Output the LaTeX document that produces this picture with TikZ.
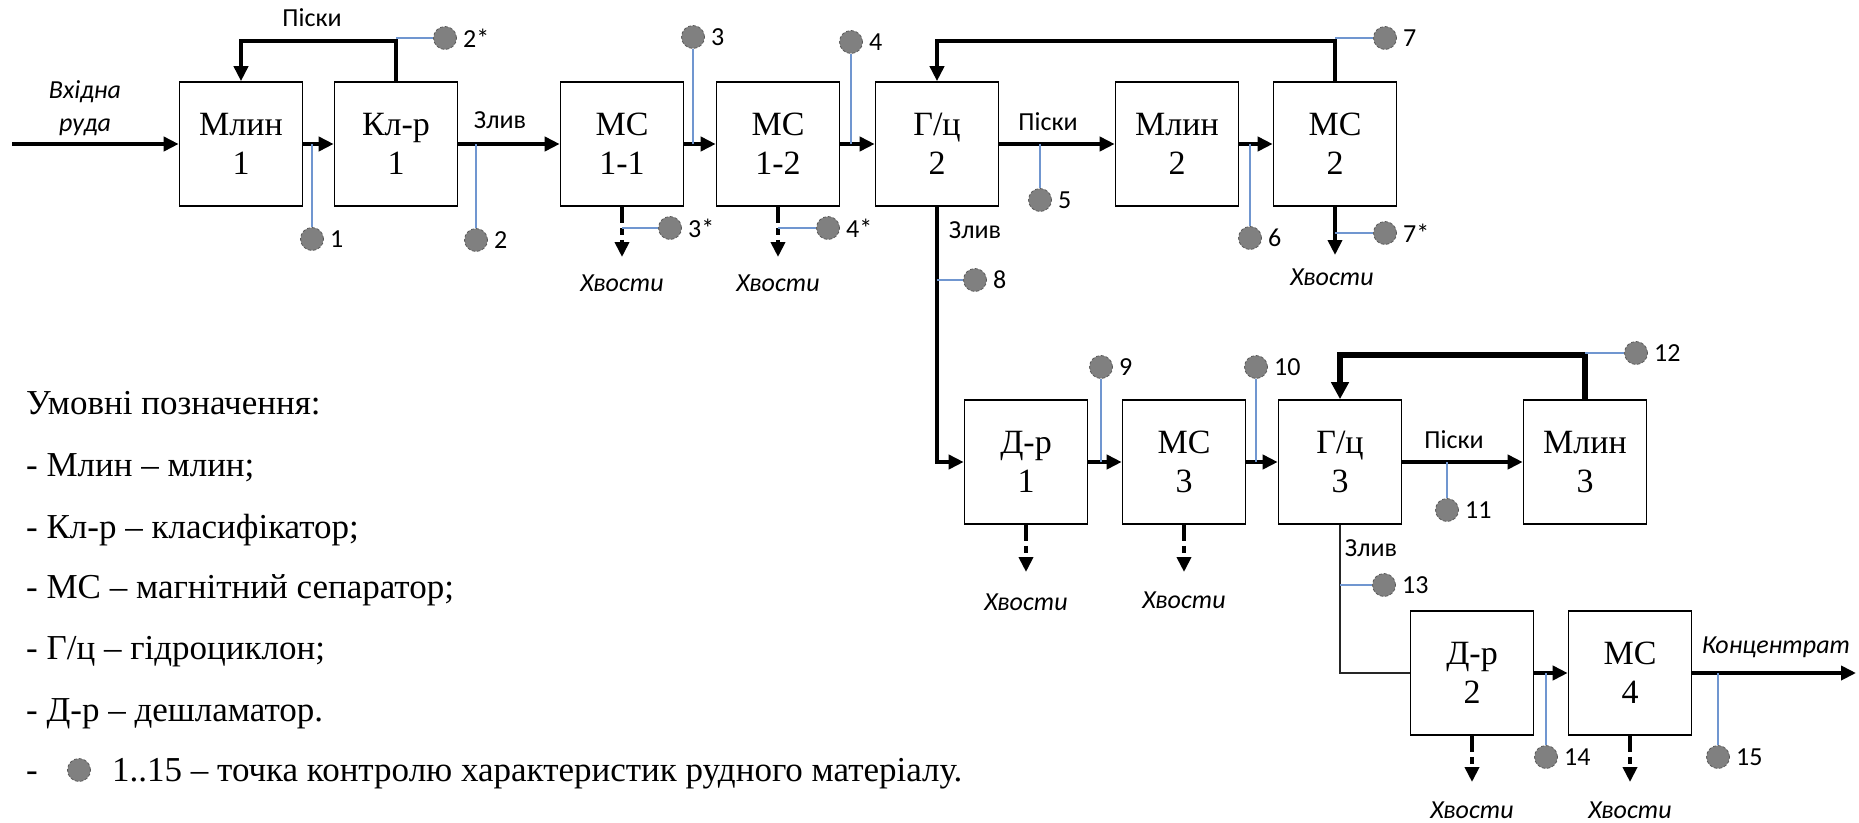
\documentclass[tikz,border=0pt]{standalone}
\usepackage{fontspec}
\setmainfont{Liberation Serif}
\newfontfamily\calfont{Carlito}
\usetikzlibrary{arrows.meta}
\definecolor{tapblue}{RGB}{112,150,208}
\definecolor{probegray}{RGB}{128,128,128}
\newcommand{\smallfnt}{\calfont\fontsize{26}{33}\selectfont}
\tikzset{
  unit/.style={draw, line width=1.6pt, minimum width=123pt, minimum height=124pt, inner sep=0pt, align=center, font=\fontsize{34}{39}\selectfont},
  flow/.style={line width=4pt, -{Triangle[length=15pt,width=14pt]}},
  tail/.style={line width=4pt, dash pattern=on 16pt off 5pt on 7pt off 5pt, -{Triangle[length=15pt,width=14pt]}},
  loop3/.style={line width=6pt, -{Triangle[length=17pt,width=17pt]}},
  drain/.style={line width=1.8pt, black!85},
  tap/.style={draw=tapblue, line width=1.3pt},
  probe/.style={circle, fill=probegray, draw=black!65, densely dashed, line width=0.8pt, minimum size=23pt, inner sep=0pt, label distance=7pt},
  every label/.style={font=\smallfnt, inner sep=1pt, xshift=5pt},
  tag/.style={font=\smallfnt},
  waste/.style={font=\smallfnt\itshape},
  legend/.style={anchor=base west, font=\fontsize{35}{40}\selectfont, inner sep=0pt}
}

\begin{document}
\begin{tikzpicture}[x=1pt, y=-1pt]
  \useasboundingbox (0,0) rectangle (1859,822);

  \node[unit] (m1) at (241,144) {Млин\\1};
  \node[unit] (k1) at (396,144) {Кл-р\\1};
  \node[unit] (ms11) at (622,144) {МС\\1-1};
  \node[unit] (ms12) at (778,144) {МС\\1-2};
  \node[unit] (g2) at (937,144) {Г/ц\\2};
  \node[unit] (m2) at (1177,144) {Млин\\2};
  \node[unit] (ms2) at (1335,144) {МС\\2};
  \node[unit] (d1) at (1026,462) {Д-р\\1};
  \node[unit] (ms3) at (1184,462) {МС\\3};
  \node[unit] (g3) at (1340,462) {Г/ц\\3};
  \node[unit] (m3) at (1585,462) {Млин\\3};
  \node[unit] (d2) at (1472,673) {Д-р\\2};
  \node[unit] (ms4) at (1630,673) {МС\\4};

  \coordinate (feed) at (12,144);
  \coordinate (top1) at (0,41);
  \coordinate (top3) at (0,355);
  \coordinate (out) at (1856,673);

  \draw[flow] (feed) -- (m1);
  \draw[flow] (m1) -- (k1);
  \draw[flow] (k1) -- (ms11);
  \draw[flow] (ms11) -- (ms12);
  \draw[flow] (ms12) -- (g2);
  \draw[flow] (g2) -- (m2);
  \draw[flow] (m2) -- (ms2);
  \draw[flow] (k1.north) -- (k1.north |- top1) -| (m1.north);
  \draw[flow] (ms2.north) -- (ms2.north |- top1) -| (g2.north);
  \draw[flow] (g2.south) |- (d1.west);
  \draw[flow] (d1) -- (ms3);
  \draw[flow] (ms3) -- (g3);
  \draw[flow] (g3) -- (m3);
  \draw[loop3] (m3.north) -- (m3.north |- top3) -| (g3.north);
  \draw[drain] (g3.south) |- (d2.west);
  \draw[flow] (d2) -- (ms4);
  \draw[flow] (ms4) -- (out);

  \coordinate (w11) at (622,257);
  \coordinate (w12) at (778,257);
  \coordinate (w2) at (1335,255);
  \coordinate (wd1) at (1026,572);
  \coordinate (w3) at (1184,572);
  \coordinate (wd2) at (1472,782);
  \coordinate (w4) at (1630,782);
  \draw[tail] (ms11.south) -- (w11);
  \draw[tail] (ms12.south) -- (w12);
  \draw[flow] (ms2.south) -- (w2);
  \draw[tail] (d1.south) -- (wd1);
  \draw[tail] (ms3.south) -- (w3);
  \draw[tail] (d2.south) -- (wd2);
  \draw[tail] (ms4.south) -- (w4);
  \node[waste] (t11) at (622,283) {Хвости};
  \node[waste] (t12) at (778,283) {Хвости};
  \node[waste] (t2) at (1332,277) {Хвости};
  \node[waste] (td1) at (1026,602) {Хвости};
  \node[waste] (t3) at (1184,600) {Хвости};
  \node[waste] (td2) at (1472,810) {Хвости};
  \node[waste] (t4) at (1630,810) {Хвости};

  \node[probe, label=right:1] (p1) at (312,239) {};
  \node[probe, label=right:2] (p2) at (476,240) {};
  \node[probe, label=right:2*] (p2s) at (445,38) {};
  \node[probe, label=right:3] (p3) at (693,37) {};
  \node[probe, label=right:3*] (p3s) at (670,228) {};
  \node[probe, label=right:4] (p4) at (851,42) {};
  \node[probe, label=right:4*] (p4s) at (828,228) {};
  \node[probe, label=right:5] (p5) at (1040,200) {};
  \node[probe, label=right:6] (p6) at (1250,238) {};
  \node[probe, label=right:7] (p7) at (1385,38) {};
  \node[probe, label=right:7*] (p7s) at (1385,233) {};
  \node[probe, label=right:8] (p8) at (975,280) {};
  \node[probe, label=right:9] (p9) at (1101,367) {};
  \node[probe, label=right:10] (p10) at (1256,367) {};
  \node[probe, label=right:11] (p11) at (1447,510) {};
  \node[probe, label=right:12] (p12) at (1636,353) {};
  \node[probe, label=right:13] (p13) at (1384,585) {};
  \node[probe, label=right:14] (p14) at (1546,757) {};
  \node[probe, label=right:15] (p15) at (1718,757) {};

  \draw[tap] (p1 |- m1) -- (p1);
  \draw[tap] (p2 |- k1) -- (p2);
  \draw[tap] (k1.north |- p2s) -- (p2s);
  \draw[tap] (p3 |- ms11) -- (p3);
  \draw[tap] (ms11 |- p3s) -- (p3s);
  \draw[tap] (p4 |- ms12) -- (p4);
  \draw[tap] (ms12 |- p4s) -- (p4s);
  \draw[tap] (p5 |- g2) -- (p5);
  \draw[tap] (p6 |- m2) -- (p6);
  \draw[tap] (ms2.north |- p7) -- (p7);
  \draw[tap] (ms2 |- p7s) -- (p7s);
  \draw[tap] (g2 |- p8) -- (p8);
  \draw[tap] (p9 |- d1) -- (p9);
  \draw[tap] (p10 |- ms3) -- (p10);
  \draw[tap] (p11 |- g3) -- (p11);
  \draw[tap] (m3.north |- p12) -- (p12);
  \draw[tap] (g3 |- p13) -- (p13);
  \draw[tap] (p14 |- d2) -- (p14);
  \draw[tap] (p15 |- ms4) -- (p15);

  \node[waste, align=center] (ore) at (85,108) {Вхідна\\руда};
  \node[tag] (sand1) at (312,18) {Піски};
  \node[tag] (over1) at (500,120) {Злив};
  \node[tag] (sand2) at (1048,122) {Піски};
  \node[tag] (over2) at (975,230) {Злив};
  \node[tag] (sand3) at (1454,440) {Піски};
  \node[tag] (over3) at (1371,548) {Злив};
  \node[waste] (conc) at (1776,647) {Концентрат};

  \node[legend] (key0) at (26,414) {Умовні позначення:};
  \node[legend] (key1) at (26,476) {- Млин – млин;};
  \node[legend] (key2) at (26,538) {- Кл-р – класифікатор;};
  \node[legend] (key3) at (26,598) {- МС – магнітний сепаратор;};
  \node[legend] (key4) at (26,659) {- Г/ц – гідроциклон;};
  \node[legend] (key5) at (26,721) {- Д-р – дешламатор.};
  \node[legend] (key6) at (26,781) {-};
  \node[probe] (keydot) at (79,770) {};
  \node[legend] (key6t) at (112,781) {1..15 – точка контролю характеристик рудного матеріалу.};
\end{tikzpicture}
\end{document}
